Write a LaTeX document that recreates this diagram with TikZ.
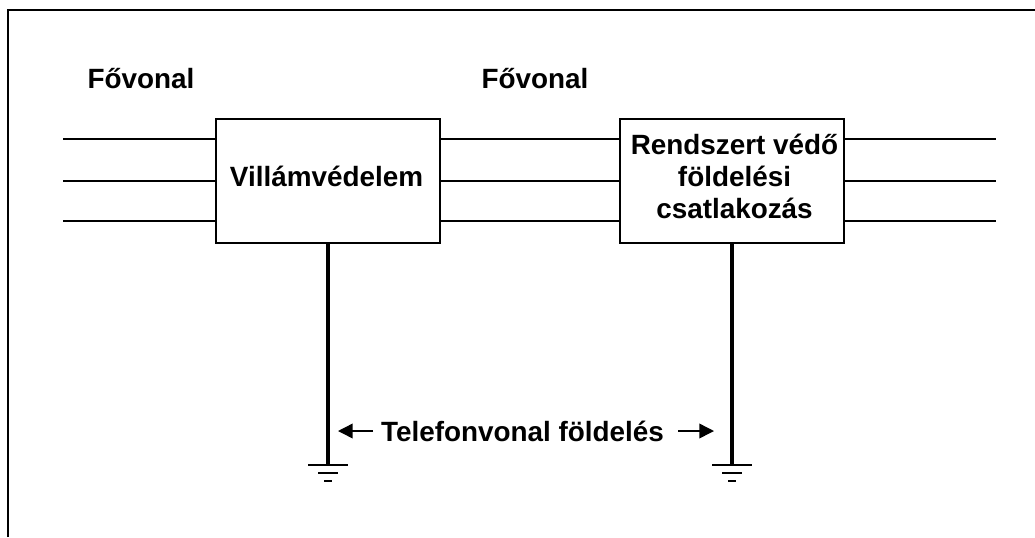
\documentclass[tikz,border=0pt]{standalone}
\usepackage{fontspec}
\setmainfont{Liberation Sans}
\usetikzlibrary{arrows.meta, positioning}
\tikzset{
  unit/.style = {
    rectangle,
    draw=black,
    fill=white,
    line width=1.4pt,
    minimum width=167.5pt,
    minimum height=93.5pt,
    inner sep=0pt
  },
  caption/.style = {
    inner sep=0pt,
    align=center,
    font=\fontsize{20.9}{24}\selectfont\bfseries
  },
  wire/.style = {
    line width=1.2pt
  },
  stem/.style = {
    line width=2.7pt
  },
  bar/.style = {
    line width=2.2pt
  },
  arrow/.style = {
    line width=1.1pt,
    -{Triangle[length=11pt,width=11pt]}
  }
}

\begin{document}
\begin{tikzpicture}[x=0.75pt,y=-0.75pt]

% ===== Area of the page =====
\useasboundingbox (0,0) rectangle (1035,537);
\draw [line width=1.5pt] (8,537) -- (8,9.5) -- (1035,9.5);

% ===== Boxes =====
\node (prot) [unit] at (328,181) {};
\node (gnd) [unit] at (732,181) {};

% ===== Labels =====
\node (protText) [caption] at (326.5,176) {Villámvédelem};
\node (gndText) [caption] at (734.5,176) {Rendszert védő\\földelési\\csatlakozás};
\node (main1) [caption] at (141,79) {Fővonal};
\node (main2) [caption] at (535,79) {Fővonal};
\node (phone) [caption] at (522.5,431.5) {Telefonvonal földelés};

% ===== Free ends of the wires =====
\coordinate (l1) at (63,139);
\coordinate (l2) at (63,181);
\coordinate (l3) at (63,221);
\coordinate (r1) at (996,139);
\coordinate (r2) at (996,181);
\coordinate (r3) at (996,221);

% ===== Wires =====
\draw [wire] (l1) -- (prot.west |- l1);
\draw [wire] (l2) -- (prot.west |- l2);
\draw [wire] (l3) -- (prot.west |- l3);
\draw [wire] (prot.east |- l1) -- (gnd.west |- l1);
\draw [wire] (prot.east |- l2) -- (gnd.west |- l2);
\draw [wire] (prot.east |- l3) -- (gnd.west |- l3);
\draw [wire] (gnd.east |- r1) -- (r1);
\draw [wire] (gnd.east |- r2) -- (r2);
\draw [wire] (gnd.east |- r3) -- (r3);

% ===== Ground symbols =====
\coordinate (e1) at (328,465);
\coordinate (e2) at (732,465);
\draw [stem] (prot.south) -- (e1);
\draw [stem] (gnd.south) -- (e2);
\foreach \base in {e1,e2} {
  \draw [bar] ([xshift=-15pt]\base) -- ([xshift=15pt]\base);
  \draw [bar] ([xshift=-7.5pt,yshift=-6pt]\base) -- ([xshift=7.5pt,yshift=-6pt]\base);
  \draw [bar] ([xshift=-3pt,yshift=-12pt]\base) -- ([xshift=3pt,yshift=-12pt]\base);
}

% ===== Arrows to the earth lines =====
\coordinate (al) at (373,431);
\coordinate (tl) at (338,431);
\coordinate (ar) at (678,431);
\coordinate (tr) at (714,431);
\draw [arrow] (al) -- (tl);
\draw [arrow] (ar) -- (tr);

\end{tikzpicture}
\end{document}
